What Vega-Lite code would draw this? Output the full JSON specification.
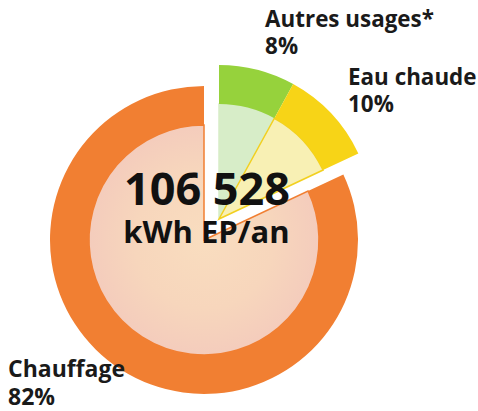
{
  "$schema": "https://vega.github.io/schema/vega-lite/v6.json",
  "width": 408,
  "height": 342,
  "autosize": {"type": "none"},
  "padding": {"left": 0, "top": 69, "right": 70, "bottom": 0},
  "background": "white",
  "config": {"view": {"stroke": null}},
  "data": {
    "values": [
      {"categorie": "Autres usages*", "part": 8, "ordre": 1, "etiquette": "Autres usages*\n8%"},
      {"categorie": "Eau chaude", "part": 10, "ordre": 2, "etiquette": "Eau chaude\n10%"},
      {"categorie": "Chauffage", "part": 82, "ordre": 3, "etiquette": "Chauffage\n82%"}
    ]
  },
  "layer": [
    {
      "mark": {"type": "arc", "radius": 115, "radius2": 0, "strokeWidth": 1.5, "stroke": "#F17F32",
        "fill": {"gradient": "radial", "x1": 0.5, "y1": 0.5, "r1": 0, "x2": 0.5, "y2": 0.5, "r2": 0.5,
          "stops": [{"offset": 0, "color": "#F9DDBF"}, {"offset": 0.6, "color": "#F7D6BC"}, {"offset": 1, "color": "#F4CCBC"}]}},
      "encoding": {
        "theta": {"field": "part", "type": "quantitative", "stack": true},
        "order": {"field": "ordre", "type": "quantitative"},
        "detail": {"field": "categorie", "type": "nominal"},
        "opacity": {"condition": {"test": "datum.categorie === 'Chauffage'", "value": 1}, "value": 0}
      }
    },
    {
      "mark": {"type": "arc", "radius": 115, "radius2": 0, "strokeWidth": 1.5, "xOffset": 15, "yOffset": -21},
      "encoding": {
        "theta": {"field": "part", "type": "quantitative", "stack": true},
        "order": {"field": "ordre", "type": "quantitative"},
        "color": {"field": "categorie", "type": "nominal", "legend": null,
          "scale": {"domain": ["Autres usages*", "Eau chaude", "Chauffage"], "range": ["#D7EDC8", "#F8F0B4", "#F6D4BD"]}},
        "stroke": {"field": "categorie", "type": "nominal", "legend": null,
          "scale": {"domain": ["Autres usages*", "Eau chaude", "Chauffage"], "range": ["#D7EDC8", "#F2D020", "#F17F32"]}},
        "opacity": {"condition": {"test": "datum.categorie === 'Chauffage'", "value": 0}, "value": 1}
      }
    },
    {
      "mark": {"type": "arc", "radius": 154, "radius2": 115},
      "encoding": {
        "theta": {"field": "part", "type": "quantitative", "stack": true},
        "order": {"field": "ordre", "type": "quantitative"},
        "color": {"field": "categorie", "type": "nominal", "legend": null,
          "scale": {"domain": ["Autres usages*", "Eau chaude", "Chauffage"], "range": ["#96D23C", "#F7D417", "#F17F32"]}},
        "opacity": {"condition": {"test": "datum.categorie === 'Chauffage'", "value": 1}, "value": 0}
      }
    },
    {
      "mark": {"type": "arc", "radius": 154, "radius2": 115, "xOffset": 15, "yOffset": -21},
      "encoding": {
        "theta": {"field": "part", "type": "quantitative", "stack": true},
        "order": {"field": "ordre", "type": "quantitative"},
        "color": {"field": "categorie", "type": "nominal", "legend": null,
          "scale": {"domain": ["Autres usages*", "Eau chaude", "Chauffage"], "range": ["#96D23C", "#F7D417", "#F17F32"]}},
        "opacity": {"condition": {"test": "datum.categorie === 'Chauffage'", "value": 0}, "value": 1}
      }
    },
    {
      "mark": {"type": "text", "radius": 181.5, "align": "left", "baseline": "alphabetic",
        "font": "Open Sans", "fontWeight": "bold", "fontSize": 22.4, "lineBreak": "\n", "lineHeight": 27,
        "color": "#1a1a1a", "xOffset": 2.6, "yOffset": -41.3},
      "encoding": {
        "theta": {"field": "part", "type": "quantitative", "stack": true, "scale": {"range": [0.0768, 6.36]}},
        "order": {"field": "ordre", "type": "quantitative"},
        "detail": {"field": "categorie", "type": "nominal"},
        "text": {"field": "etiquette", "type": "nominal", "condition": {"test": "datum.categorie === 'Chauffage'", "value": ""}}
      }
    },
    {
      "transform": [{"filter": "datum.categorie === 'Chauffage'"}],
      "mark": {"type": "text", "align": "left", "baseline": "alphabetic",
        "font": "Open Sans", "fontWeight": "bold", "fontSize": 23, "lineBreak": "\n", "lineHeight": 28,
        "color": "#1a1a1a", "xOffset": -196, "yOffset": 137},
      "encoding": {
        "text": {"field": "etiquette", "type": "nominal"}
      }
    },
    {
      "data": {"values": [{"total": "106 528", "unite": "kWh EP/an"}]},
      "layer": [
        {
          "mark": {"type": "text", "align": "center", "baseline": "alphabetic", "font": "Open Sans",
            "fontWeight": "bold", "fontSize": 45, "color": "#111111", "xOffset": 3, "yOffset": -35},
          "encoding": {"text": {"field": "total", "type": "nominal"}}
        },
        {
          "mark": {"type": "text", "align": "center", "baseline": "alphabetic", "font": "Open Sans",
            "fontWeight": "bold", "fontSize": 31, "color": "#111111", "xOffset": 2.5, "yOffset": 3},
          "encoding": {"text": {"field": "unite", "type": "nominal"}}
        }
      ]
    }
  ],
  "resolve": {"scale": {"color": "independent", "stroke": "independent", "theta": "independent"}}
}
